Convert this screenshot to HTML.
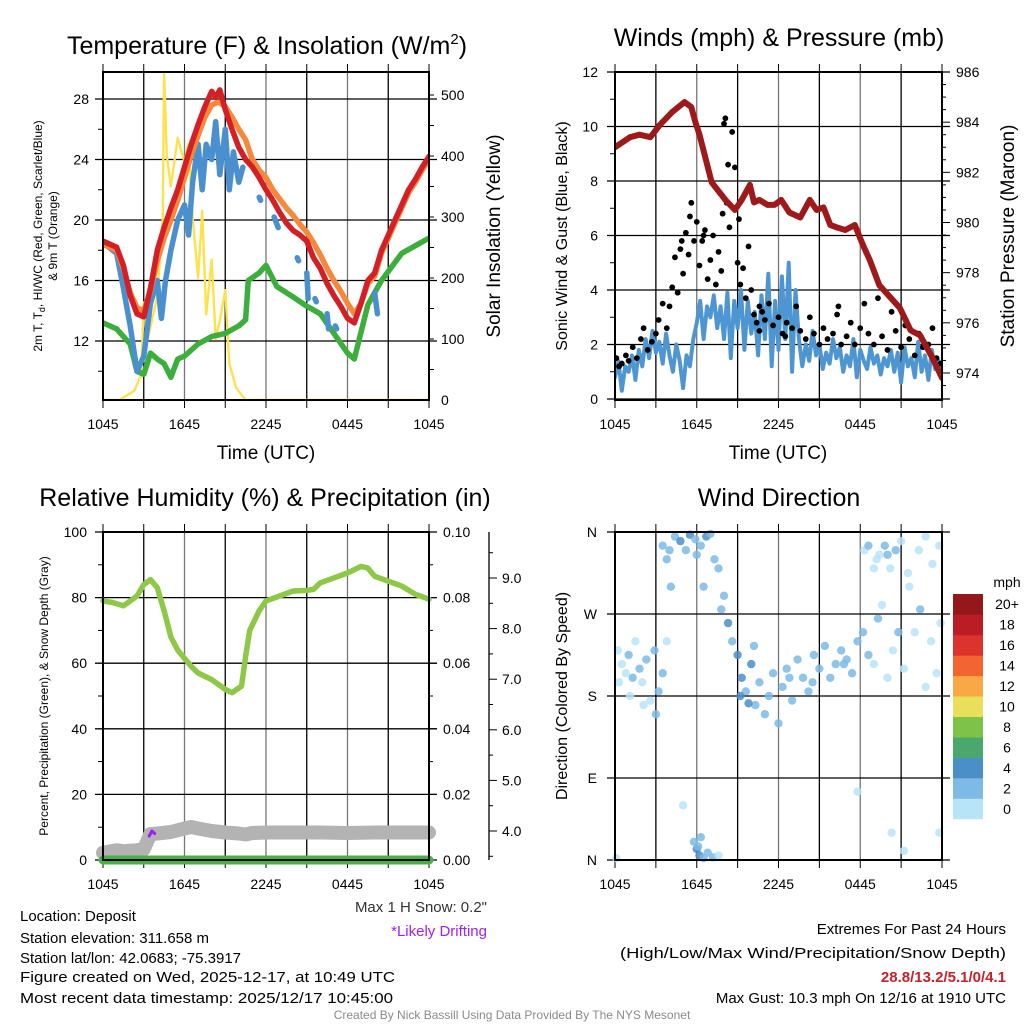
<!DOCTYPE html>
<html><head><meta charset="utf-8"><style>
html,body{margin:0;padding:0;background:#fff;}
svg{display:block;font-family:"Liberation Sans",Arial,sans-serif;}
</style></head><body>
<svg id="chart" xmlns="http://www.w3.org/2000/svg" width="1024" height="1024" viewBox="0 0 1024 1024">
<rect x="0" y="0" width="1024" height="1024" fill="#fff"/>
<g id="layer"></g>
<g font-size="25" text-anchor="middle" fill="#000">
<text x="267" y="54">Temperature (F) &amp; Insolation (W/m<tspan dy="-10" font-size="15">2</tspan><tspan dy="10">)</tspan></text>
<text x="779" y="46">Winds (mph) &amp; Pressure (mb)</text>
<text x="265" y="506">Relative Humidity (%) &amp; Precipitation (in)</text>
<text x="779" y="506">Wind Direction</text>
</g>
<g font-size="15" fill="#000">
<text x="20" y="921">Location: Deposit</text>
<text x="20" y="943">Station elevation: 311.658 m</text>
<text x="20" y="963">Station lat/lon: 42.0683; -75.3917</text>
<text x="20" y="982" textLength="375" lengthAdjust="spacingAndGlyphs">Figure created on Wed, 2025-12-17, at 10:49 UTC</text>
<text x="20" y="1003" textLength="373" lengthAdjust="spacingAndGlyphs">Most recent data timestamp: 2025/12/17 10:45:00</text>
<text x="487" y="912" text-anchor="end" fill="#333">Max 1 H Snow: 0.2"</text>
<text x="487" y="936" text-anchor="end" fill="#a020f0">*Likely Drifting</text>
</g>
<g font-size="15" fill="#000" text-anchor="end">
<text x="1006" y="934">Extremes For Past 24 Hours</text>
<text x="1006" y="958" textLength="386" lengthAdjust="spacingAndGlyphs">(High/Low/Max Wind/Precipitation/Snow Depth)</text>
<text x="1006" y="982" fill="#c8202a" font-weight="bold">28.8/13.2/5.1/0/4.1</text>
<text x="1006" y="1003">Max Gust: 10.3 mph On 12/16 at 1910 UTC</text>
</g>
<text x="512" y="1019" font-size="12" fill="#8a8a8a" text-anchor="middle">Created By Nick Bassill Using Data Provided By The NYS Mesonet</text>
</svg>
<script>
// ---------- DATA ----------
const xTickLabels = ["1045","1645","2245","0445","1045"];
// Panel 1
const tempTicks = [12,16,20,24,28];
const solarTicks = [0,100,200,300,400,500];
const redT = [0,1,1.5,2,2.5,3,3.5,4,4.5,5,5.5,6,6.5,7,7.5,8,8.3,8.6,9,9.5,10,10.5,11,11.5,12,12.5,13,13.5,14,14.5,15,15.5,16,16.5,17,17.5,18,18.5,19,19.5,20,20.5,21,21.5,22,22.5,23,23.5,24];
const redV = [18.6,18.2,17,15,13.8,13.6,15.5,18,19.5,20.8,22,23.5,25,26.3,27.5,28.5,28.1,28.6,27.3,26,24.8,24,23.5,22.8,22,21.3,20.5,19.8,19.3,19,18.6,17.5,16.8,15.8,15,14.3,13.5,13.2,14.5,16,16.5,18,19,20,21,22,22.7,23.5,24.2];
const orangeT = [0,1,1.5,2,2.5,3,3.5,4,4.5,5,5.5,6,6.5,7,7.5,8,8.5,9,9.5,10,10.5,11,11.5,12,12.5,13,13.5,14,14.5,15,15.5,16,16.5,17,17.5,18,18.5,19,19.5,20,20.5,21,21.5,22,22.5,23,23.5,24];
const orangeV = [18.4,18,16.8,15.2,14.2,14,15.3,17.3,18.8,20,21.3,22.8,24.3,25.6,26.8,27.6,27.8,27.5,26.8,26,25.3,24,23.3,22.8,22,21.4,20.8,20.3,19.7,19.2,18.5,17.7,16.8,16,15.3,14.5,13.8,14.5,15.8,16.3,17.8,18.8,19.8,20.8,21.8,22.5,23.3,24];
const blueT = [0,1,1.5,2,2.5,3,3.5,4,4.3,4.6,5,5.5,6,6.3,6.6,7,7.3,7.6,8,8.3,8.6,9,9.3,9.6,10,10.3,null,11.5,11.6,null,12.6,12.9,null,14.3,14.4,null,15,15.1,null,15.6,15.7,null,16.5,16.6,null,17.1,17.2,null,20,20.2];
const blueV = [18.5,17.8,15.5,13,10,11,14.5,16,13.5,16,18,20,21,19,22.5,25,22,25,24,26.5,23,26,22,24.5,22.5,23.5,null,21.5,21.3,null,20.2,19.5,null,17.5,17.3,null,16.5,14.8,null,14.8,14.6,null,13.8,12.8,null,13,12.8,null,15.2,13.8];
const greenT = [0,1,2,2.5,3,3.5,4,4.5,5,5.5,6,7,8,9,10,10.5,10.7,11.5,12,12.8,14,15,16,17,18,18.5,19.5,20.5,22,23,24];
const greenV = [13.2,12.8,11.8,10,9.8,11.2,10.8,10.5,9.6,10.8,11,11.8,12.3,12.5,13,13.4,16,16.5,17,15.6,14.9,14.3,13.8,12.5,11.2,10.8,14.4,16,17.8,18.3,18.8];
const solarT = [0,1.2,2.3,2.8,3,3.3,4,4.4,4.5,4.7,5,5.5,6,6.3,6.6,7,7.3,7.6,8,8.3,8.6,9,9.3,9.8,10.5,24];
const solarV = [0,0,15,40,160,100,170,300,537,400,350,430,390,420,300,200,310,140,230,100,130,180,60,20,0,0];
// Panel 2
const windTicks = [0,2,4,6,8,10,12];
const presTicks = [974,976,978,980,982,984,986];
const presT = [0,1.1,1.8,2.6,3.3,4.2,5.1,5.6,5.9,6.2,7.1,8.1,8.8,9.3,9.9,10.2,10.6,11.2,11.7,12.2,12.8,13.6,14.3,14.8,15.3,15.8,16.3,16.9,17.6,18.2,18.7,19.4,20.4,20.9,21.7,22.4,23.3,24];
const presV = [983.0,983.4,983.5,983.4,983.9,984.4,984.8,984.6,984.0,983.5,981.6,980.9,980.5,980.9,981.5,980.8,980.9,980.7,980.7,980.9,980.4,980.2,980.9,980.5,980.6,979.9,979.8,979.7,979.9,979.1,978.5,977.5,976.9,976.6,975.7,975.5,974.6,973.8];
const sonicV = [0.8,1.4,0.3,1.2,1.0,1.6,0.7,1.8,1.2,2.2,1.5,2.5,1.7,2.1,1.3,2.4,1.6,1.0,2.0,1.4,0.4,1.6,1.2,2.2,2.8,3.6,2.2,3.4,3.0,3.8,2.6,3.4,2.2,3.9,1.5,3.6,2.6,4.0,1.8,3.6,2.4,3.2,1.6,3.8,2.2,4.6,1.2,3.6,1.8,4.5,2.2,5.0,1.0,4.0,2.2,1.2,2.0,1.4,2.5,1.6,2.0,1.1,1.7,1.3,2.2,1.5,1.9,1.0,1.6,1.2,2.2,0.8,1.8,1.4,1.1,1.9,1.3,1.6,0.9,1.5,1.2,1.8,1.0,1.7,0.6,1.9,1.2,1.5,0.8,2.1,1.0,1.6,0.7,1.8,1.1,1.4,0.8];
const gustT = [0.1,0.3,0.5,0.8,1.0,1.3,1.6,1.9,2.1,2.4,2.7,3.0,3.2,3.5,3.8,4.0,4.2,4.4,4.6,4.8,5.0,5.2,5.4,5.6,5.8,6.0,6.2,6.4,6.6,6.8,7.0,7.2,7.4,7.6,7.8,8.0,8.1,8.2,8.4,8.6,8.8,9.0,9.2,9.4,9.6,9.8,10.0,10.2,10.4,10.6,10.8,11.0,11.3,11.6,12.0,12.3,12.6,13.0,13.3,13.6,14.0,14.3,14.6,15.0,15.3,15.6,16.0,16.3,16.6,17.0,17.3,17.6,18.0,18.3,18.6,19.0,19.3,19.6,20.0,20.3,20.6,21.0,21.3,21.6,22.0,22.3,22.6,23.0,23.3,23.6,23.9,7.9,8.3,9.1,6.5,5.5,4.9,10.6,12.5,16.4];
const gustV = [1.5,1.2,1.3,1.6,1.4,1.9,1.5,2.2,2.6,1.8,2.1,2.4,2.9,3.5,2.6,3.4,4.1,5.2,3.9,5.5,4.6,6.1,5.3,7.2,5.8,6.5,4.9,5.8,6.2,4.4,5.1,6.0,4.2,5.4,4.7,10.1,10.3,7.2,6.3,9.8,8.5,5.0,4.2,4.8,3.7,5.6,4.0,3.1,2.8,3.4,3.2,2.9,3.5,2.7,3.0,2.4,2.8,2.6,3.4,2.5,2.2,3.0,2.4,2.0,2.6,2.2,2.4,3.1,2.0,2.3,2.8,2.0,2.6,3.5,2.4,2.0,3.7,2.3,1.8,3.2,2.5,1.9,2.7,2.2,1.6,2.4,1.9,2.0,2.6,1.5,1.3,6.8,8.6,6.6,6.0,6.7,5.8,2.5,2.3,3.4];
// Panel 3
const rhTicks = [0,20,40,60,80,100];
const precipTicks = ["0.00","0.02","0.04","0.06","0.08","0.10"];
const snowTicks = [4,5,6,7,8,9];
const rhT = [0,0.7,1.5,2.5,3,3.5,4,4.5,5,5.5,6.5,7,8,9,9.5,10.2,10.5,10.8,11.5,12,13,14,15,15.5,16,17,18,19,19.5,20,21,22,23,24];
const rhV = [79,78.5,77.5,80.5,84,85.5,83,76,68,64,59,57,55,52,51,53,62,70,76,79,80.5,82,82.2,82.5,84.5,86,87.5,89.5,89,86.5,85,83.5,81,79.5];
const precipT = [0,24];
const precipV = [0,0];
const snowT = [0,1,1.5,2.5,3,3.5,4,5,6,6.5,7,8,9,10,10.5,11,12,14,16,18,20,22,24];
const snowV = [3.57,3.62,3.6,3.62,3.64,3.94,3.95,3.98,4.05,4.08,4.05,4.0,3.97,3.95,3.93,3.96,3.97,3.97,3.97,3.96,3.97,3.97,3.97];
const driftT = [3.4,3.6,3.8];
const driftV = [3.9,4.0,3.95];
// Panel 4
const dirLabels = ["N","E","S","W","N"];
const dirT = [0.2,0.5,0.8,1.0,1.3,1.5,1.8,2.0,2.3,2.6,2.9,3.2,3.5,3.8,0.3,1.1,2.1,3.0,0.1, 3.5,3.8,4.1,4.4,4.8,5.2,5.5,5.9,6.3,6.7,7.0,7.3,7.6,4.0,6.0,6.5,7.8, 5.8,6.0,6.2,6.5,6.8,7.2,7.6,6.3,6.1, 8.0,8.3,8.6,9.0,9.3,9.6,10.0,10.3,10.6,11.0,11.3,11.6,12.0,12.3,12.6,13.0,13.4,13.8,14.2,14.6,15.0,15.4,15.8,16.2,16.6,17.0,17.4,17.8,18.2,18.6,19.0,19.3,19.6,20.0,20.4,20.8,21.2,21.6,22.0,22.4,22.8,23.2,23.6,23.9,9.2,9.8,10.2,12.8,14.5,16.8, 18.3,18.6,19.0,19.4,19.8,20.2,20.6,21.0,21.5,22.3,22.8,23.3,23.8,19.2,20.0, 17.8,20.3,21.2,23.8,5.0];
const dirV = [230,215,205,225,200,240,210,195,220,175,230,185,205,240,195,180,170,160,2, 345,330,300,355,350,340,357,352,345,355,358,330,320,340,335,300,275, 20,12,5,2,8,3,5,25,15, 290,260,240,225,200,185,215,170,195,160,180,205,150,190,210,175,220,200,185,225,210,235,200,215,230,220,205,240,250,225,215,265,280,200,230,250,210,300,250,275,190,240,205,260,180,172,235,200,195,215, 340,345,320,335,345,320,340,350,315,340,355,325,345,330,335, 75,30,10,30,60];
const dirSpd = [1,1,1,2,2,1,2,1,2,1,2,2,2,1,1,0,1,2,1, 3,3,2,3,4,3,4,2,3,4,3,3,2,2,3,2,3, 3,4,4,3,2,2,1,2,3, 3,4,3,4,4,3,4,3,3,2,3,2,2,3,2,2,3,2,2,3,2,2,3,2,3,2,2,3,2,2,1,2,1,1,1,2,1,1,1,2,1,1,1,1,4,4,3,3,2,3, 1,2,1,1,2,1,2,1,1,1,1,1,1,1,2, 1,1,1,1,1];
const cbLabels = ["0","2","4","6","8","10","12","14","16","18","20+"];
const cbColors = ["#b8e4f8","#7dbbe6","#4a8fc8","#4aa86c","#7ec24a","#e8e05a","#f8a845","#f26530","#dc332c","#bb1c26","#93171b"];

// ---------- HELPERS ----------
const NS="http://www.w3.org/2000/svg";
const layer=document.getElementById('layer');
function mk(tag,attrs,parent){const e=document.createElementNS(NS,tag);for(const k in attrs)e.setAttribute(k,attrs[k]);(parent||layer).appendChild(e);return e;}
function lin(d0,d1,r0,r1){return v=>r0+(v-d0)*(r1-r0)/(d1-d0);}
function pathD(ts,vs,sx,sy){let d="",pen=false;for(let i=0;i<ts.length;i++){if(ts[i]===null||vs[i]===null){pen=false;continue;}d+=(pen?"L":"M")+sx(ts[i]).toFixed(1)+","+sy(vs[i]).toFixed(1);pen=true;}return d;}
function frame(g,x0,x1,y0,y1,gridYs,sx){
  for(let h=3;h<24;h+=3){const l=mk('line',{x1:sx(h),x2:sx(h),y1:y0,y2:y1,stroke:(h%6===0)?'#777':'#000','stroke-width':1.3},g);}
  for(let h=0;h<=24;h+=3){mk('line',{x1:sx(h),x2:sx(h),y1:y0-8,y2:y0,stroke:'#000','stroke-width':1},g);const t=mk('line',{x1:sx(h),x2:sx(h),y1:y1,y2:y1+8,stroke:'#000','stroke-width':1},g);}
  gridYs.forEach(y=>{const l=mk('line',{x1:x0-8,x2:x1+8,y1:y,y2:y,stroke:'#000','stroke-width':1.3},g);});
  const xl=xTickLabels;for(let i=0;i<xl.length;i++){const t=mk('text',{x:sx(i*6),y:y1+29,'font-size':14,'text-anchor':'middle'},g);t.textContent=xl[i];}
}
function border(g,x0,x1,y0,y1){const r=mk('rect',{x:x0,y:y0,width:x1-x0,height:y1-y0,fill:'none',stroke:'#000','stroke-width':2},g);}
function rotText(g,x,y,txt,size,name){const t=mk('text',{x:x,y:y,'font-size':size,'text-anchor':'middle',transform:`rotate(-90 ${x} ${y})`},g);t.textContent=txt;return t;}
function line(g,ts,vs,sx,sy,color,w,name){const p=mk('path',{d:pathD(ts,vs,sx,sy),fill:'none',stroke:color,'stroke-width':w,'stroke-linejoin':'round','stroke-linecap':'round'},g);return p;}

// ---------- PANEL 1 ----------
(function(){
 const g=mk('g',{});
 const x0=103,x1=429,y0=72,y1=400;
 const sx=lin(0,24,x0,x1), sy=lin(12,28,341,99), ss=lin(0,500,400,95);
 const clip=mk('clipPath',{id:'c1'},g);mk('rect',{x:x0,y:y0,width:x1-x0,height:y1-y0},clip);
 frame(g,x0,x1,y0,y1,tempTicks.map(sy),sx);
 for(let v=10;v<=30;v+=2){if(sy(v)>y0&&sy(v)<y1)mk('line',{x1:x0-5,x2:x0,y1:sy(v),y2:sy(v),stroke:'#000'},g);}
 for(let v=50;v<=550;v+=50){if(ss(v)>y0&&ss(v)<y1)mk('line',{x1:x1,x2:x1+5,y1:ss(v),y2:ss(v),stroke:'#000'},g);}
 tempTicks.forEach(v=>{const t=mk('text',{x:x0-14,y:sy(v)+5,'font-size':14,'text-anchor':'end'},g);t.textContent=v;});
 solarTicks.forEach(v=>{const t=mk('text',{x:x1+12,y:ss(v)+5,'font-size':14},g);t.textContent=v;});
 const pg=mk('g',{'clip-path':'url(#c1)'},g);
 line(pg,solarT,solarV,sx,ss,'#fde24d',2.4,'solar-line');
 line(pg,greenT,greenV,sx,sy,'#3cae3c',5.5,'dewpoint-line');
 line(pg,blueT,blueV,sx,sy,'#4a90cf',5.5,'windchill-line');
 line(pg,orangeT,orangeV,sx,sy,'#f5883a',5.5,'temp-9m-line');
 line(pg,redT,redV,sx,sy,'#d41f27',5.5,'temp-2m-line');
 border(g,x0,x1,y0,y1);
 const t=mk('text',{x:266,y:459,'font-size':19,'text-anchor':'middle'},g);t.textContent='Time (UTC)';
 const a=mk('text',{x:42,y:236,'font-size':12,'text-anchor':'middle',transform:'rotate(-90 42 236)'},g);
 a.innerHTML='2m T, T<tspan font-size="9" dy="3">d</tspan><tspan dy="-3">, HI/WC (Red, Green, Scarlet/Blue)</tspan>';
 
 rotText(g,57,236,'& 9m T (Orange)',12,'temp-y-axis-title-2');
 rotText(g,500,236,'Solar Insolation (Yellow)',19,'solar-y-axis-title');
})();

// ---------- PANEL 2 ----------
(function(){
 const g=mk('g',{});
 const x0=615,x1=942,y0=72,y1=400;
 const sx=lin(0,24,x0,x1), sy=lin(0,12,399,72), sp=lin(974,986,373,72);
 const clip=mk('clipPath',{id:'c2'},g);mk('rect',{x:x0,y:y0,width:x1-x0,height:y1-y0},clip);
 frame(g,x0,x1,y0,y1,windTicks.map(sy),sx);
 for(let v=1;v<12;v+=2)mk('line',{x1:x0-5,x2:x0,y1:sy(v),y2:sy(v),stroke:'#000'},g);
 for(let v=973.5;v<=986;v+=0.5){if(sp(v)>y0&&sp(v)<y1)mk('line',{x1:x1,x2:x1+(v%2===0?8:4),y1:sp(v),y2:sp(v),stroke:'#000'},g);}
 windTicks.forEach(v=>{const t=mk('text',{x:x0-17,y:sy(v)+5,'font-size':14,'text-anchor':'end'},g);t.textContent=v;});
 presTicks.forEach(v=>{const t=mk('text',{x:x1+14,y:sp(v)+5,'font-size':14},g);t.textContent=v;});
 const pg=mk('g',{'clip-path':'url(#c2)'},g);
 const sonicT=sonicV.map((v,i)=>i*0.25);
 line(pg,sonicT,sonicV,sx,sy,'#4e96d2',4,'sonic-wind-line');
 for(let i=0;i<gustT.length;i++){const c=mk('circle',{cx:sx(gustT[i]),cy:sy(gustV[i]),r:2.9,fill:'#000'},pg);}
 line(pg,presT,presV,sx,sp,'#9e1a1a',6,'pressure-line');
 border(g,x0,x1,y0,y1);
 const t=mk('text',{x:778,y:459,'font-size':19,'text-anchor':'middle'},g);t.textContent='Time (UTC)';
 rotText(g,567,236,'Sonic Wind & Gust (Blue, Black)',16,'wind-y-axis-title');
 rotText(g,1014,236,'Station Pressure (Maroon)',19,'pressure-y-axis-title');
})();

// ---------- PANEL 3 ----------
(function(){
 const g=mk('g',{});
 const x0=103,x1=429,y0=532,y1=860;
 const sx=lin(0,24,x0,x1), sy=lin(0,100,860,532), sn=lin(4,9,831,578);
 const clip=mk('clipPath',{id:'c3'},g);mk('rect',{x:x0-10,y:y0,width:x1-x0+20,height:y1-y0+10},clip);
 frame(g,x0,x1,y0,y1,rhTicks.map(sy),sx);
 for(let v=10;v<100;v+=20)mk('line',{x1:x0-5,x2:x0,y1:sy(v),y2:sy(v),stroke:'#000'},g);
 for(let v=10;v<100;v+=10)mk('line',{x1:x1,x2:x1+(v%20===0?8:4),y1:sy(v),y2:sy(v),stroke:'#000'},g);
 rhTicks.forEach(v=>{const t=mk('text',{x:x0-16,y:sy(v)+5,'font-size':14,'text-anchor':'end'},g);t.textContent=v;});
 precipTicks.forEach((v,i)=>{const t=mk('text',{x:x1+14,y:sy(i*20)+5,'font-size':14},g);t.textContent=v;});
 const ax=mk('line',{x1:489,x2:489,y1:532,y2:860,stroke:'#000','stroke-width':1.3},g);
 for(let v=3.5;v<=9.75;v+=0.5){mk('line',{x1:489,x2:489+(v%1===0?8:4),y1:sn(v),y2:sn(v),stroke:'#000'},g);}
 snowTicks.forEach(v=>{const t=mk('text',{x:502,y:sn(v)+5,'font-size':14},g);t.textContent=v.toFixed(1);});
 const pg=mk('g',{'clip-path':'url(#c3)'},g);
 line(pg,snowT,snowV,sx,sn,'#b3b3b3',14,'snow-depth-line');
 line(pg,driftT,driftV,sx,sn,'#a020f0',3,'drifting-marker');
 line(pg,precipT,precipV,sx,lin(0,0.1,860,532),'#46b245',9,'precip-line');
 line(pg,rhT,rhV,sx,sy,'#8dc846',5.5,'rh-line');
 border(g,x0,x1,y0,y1);
 rotText(g,48,696,'Percent, Precipitation (Green), & Snow Depth (Gray)',12,'rh-y-axis-title');
})();

// ---------- PANEL 4 ----------
(function(){
 const g=mk('g',{});
 const x0=615,x1=942,y0=532,y1=860;
 const sx=lin(0,24,x0,x1), sy=lin(0,360,860,532);
 const clip=mk('clipPath',{id:'c4'},g);mk('rect',{x:x0-5,y:y0-5,width:x1-x0+10,height:y1-y0+10},clip);
 frame(g,x0,x1,y0,y1,[0,90,180,270,360].map(sy),sx);
 dirLabels.forEach((v,i)=>{const t=mk('text',{x:x0-18,y:sy(i*90)+5,'font-size':14,'text-anchor':'end'},g);t.textContent=v;});
 const pg=mk('g',{'clip-path':'url(#c4)'},g);
 for(let i=0;i<dirT.length;i++){const ci=Math.min(10,Math.floor(dirSpd[i]/2));const c=mk('circle',{cx:sx(dirT[i]),cy:sy(dirV[i]),r:4.2,fill:cbColors[ci],'fill-opacity':0.85},pg);}
 border(g,x0,x1,y0,y1);
 rotText(g,567,696,'Direction (Colored By Speed)',16,'dir-y-axis-title');
 const cb=mk('g',{},g);
 const bh=225/11;
 for(let i=0;i<11;i++){const y=819-(i+1)*bh;const r=mk('rect',{x:953,y:y,width:30,height:bh+0.3,fill:cbColors[i]},cb);
  const t=mk('text',{x:1007,y:y+bh/2+5,'font-size':14,'text-anchor':'middle'},cb);t.textContent=cbLabels[i];}
 const m=mk('text',{x:1007,y:587,'font-size':14,'text-anchor':'middle'},cb);m.textContent='mph';
})();
</script>
</body></html>
